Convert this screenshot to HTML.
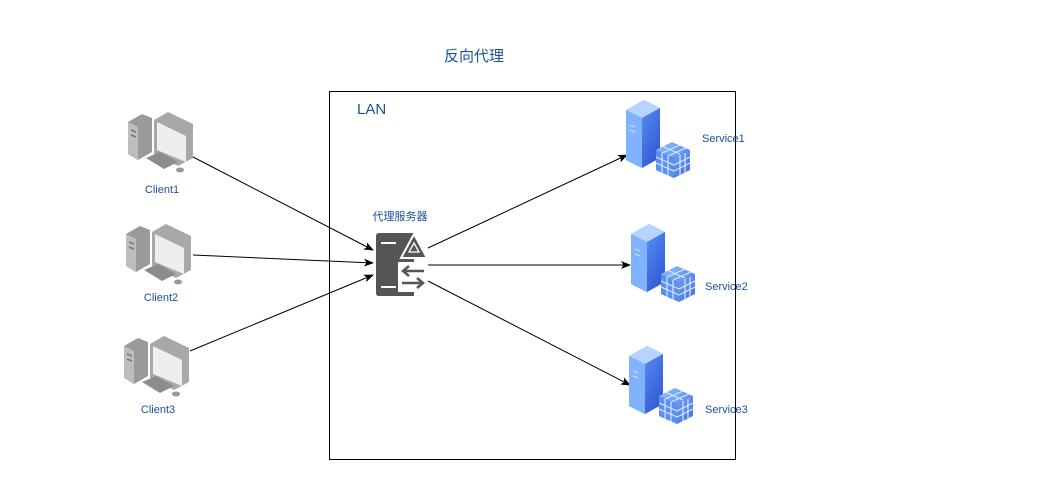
<!DOCTYPE html>
<html><head><meta charset="utf-8"><style>
body{margin:0;background:#fff;}
svg{display:block;font-family:"Liberation Sans","Noto Sans CJK SC",sans-serif;}
</style></head><body>
<svg width="1043" height="503" viewBox="0 0 1043 503" xmlns="http://www.w3.org/2000/svg">
<defs>
<marker id="ah" markerWidth="10" markerHeight="8" refX="9" refY="4" orient="auto" markerUnits="userSpaceOnUse">
<path d="M0,0 L10,4 L0,8 L2.5,4 Z" fill="#000"/></marker>
<linearGradient id="tw" x1="0" y1="0" x2="1" y2="1"><stop offset="0" stop-color="#6aa8ff"/><stop offset="1" stop-color="#2a4fd0"/></linearGradient>
<linearGradient id="cb" x1="0" y1="0" x2="1" y2="1"><stop offset="0" stop-color="#8ec2ff"/><stop offset="1" stop-color="#3f6fe0"/></linearGradient>
<g id="pc">
<path d="M0,12 L14,4 L24,8 L24,42 L10,50 L0,44 Z" fill="#9a9a9a"/>
<path d="M0,12 L10,17 L10,50 L0,44Z" fill="#bdbdbd"/>
<path d="M3,20 L8,22 M3,25 L8,27" stroke="#777" stroke-width="1.5"/>
<path d="M26,10 L40,2 L65,14 L65,48 L50,56 L26,44 Z" fill="#a8a8a8"/>
<path d="M29,12 L58,26 L58,52 L29,40 Z" fill="#eee"/>
<path d="M18,48 L32,42 L50,52 L36,59 Z" fill="#8c8c8c"/>
<ellipse cx="52" cy="60" rx="4" ry="2.5" fill="#999"/>
</g>
<g id="srv">
<path d="M0,10 L18,0 L34,8 L34,58 L16,68 L0,60 Z" fill="url(#tw)"/>
<path d="M0,10 L16,18 L16,68 L0,60Z" fill="#7fb3ff"/>
<path d="M0,10 L18,0 L34,8 L16,18Z" fill="#b7d4ff"/>
<path d="M4,25 L9,27 M4,30 L9,32" stroke="#dde" stroke-width="1"/>
<path d="M30,50 L46,42 L64,50 L64,70 L48,78 L30,70 Z" fill="url(#cb)"/>
<path d="M30,50 L48,58 L48,78 L30,70Z" fill="#5c8ff0"/>
<path d="M36,53 L54,45 M42,56 L60,48 M30,57 L48,65 L64,57 M30,63 L48,71 L64,63 M36,53 L36,73 M42,56 L42,76 M54,55 L54,75 M59,53 L59,73 M36,46 L54,54" stroke="#d8e8ff" stroke-width="1.2" fill="none"/>
</g>
</defs>
<text x="474" y="61" font-size="15" fill="#1a4f9c" text-anchor="middle">反向代理</text>
<rect x="329.5" y="91.5" width="406" height="368" fill="none" stroke="#000" stroke-width="1"/>
<text x="357" y="114" font-size="15" fill="#1a4f9c">LAN</text>

<use href="#pc" x="128" y="110"/>
<use href="#pc" x="126" y="222"/>
<use href="#pc" x="124" y="334"/>
<text x="162" y="193" font-size="11" fill="#1a4f9c" text-anchor="middle">Client1</text>
<text x="161" y="301" font-size="11" fill="#1a4f9c" text-anchor="middle">Client2</text>
<text x="158" y="413" font-size="11" fill="#1a4f9c" text-anchor="middle">Client3</text>

<text x="400" y="220" font-size="11" fill="#1a4f9c" text-anchor="middle">代理服务器</text>
<path d="M376,236 Q376,233 379,233 L414,233 L414,296 L379,296 Q376,296 376,293Z" fill="#555"/>
<path d="M401,258 L414,234 L427,258Z" fill="#555" stroke="#fff" stroke-width="2"/>
<path d="M409,252 L414,243 L419,252 Z" fill="none" stroke="#fff" stroke-width="1.3"/>
<rect x="398" y="262" width="28" height="30" fill="#fff"/>
<path d="M398,262 L398,296 L414,296 L414,292 L398,292Z" fill="#555"/>
<path d="M381,243 L396,243 M381,287 L396,287" stroke="#fff" stroke-width="2"/>
<g stroke="#555" stroke-width="2.5" fill="none">
<path d="M424,271 L403,271 M409,266 L403,271 L409,276"/>
<path d="M402,283 L423,283 M417,278 L423,283 L417,288"/>
</g>

<g stroke="#000" stroke-width="1" marker-end="url(#ah)">
<line x1="193" y1="157" x2="373" y2="250"/>
<line x1="193" y1="255" x2="373" y2="263"/>
<line x1="190" y1="351" x2="373" y2="275"/>
<line x1="428" y1="248" x2="627" y2="155"/>
<line x1="428" y1="265" x2="630" y2="265"/>
<line x1="428" y1="281" x2="630" y2="385"/>
</g>

<use href="#srv" x="626" y="100"/>
<use href="#srv" x="631" y="224"/>
<use href="#srv" x="629" y="346"/>
<text x="702" y="142" font-size="11" fill="#1a4f9c">Service1</text>
<text x="705" y="290" font-size="11" fill="#1a4f9c">Service2</text>
<text x="705" y="413" font-size="11" fill="#1a4f9c">Service3</text>
</svg>
</body></html>
